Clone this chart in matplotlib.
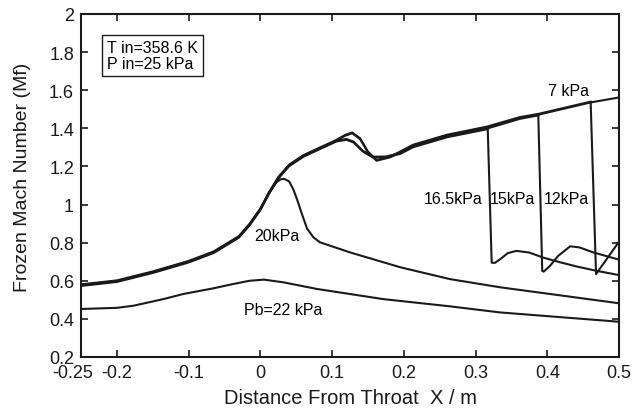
import matplotlib
matplotlib.use("Agg")
import matplotlib.pyplot as plt
import matplotlib.transforms as mtransforms

plt.rcParams['font.family'] = ['Liberation Sans', 'DejaVu Sans']
plt.rcParams['axes.unicode_minus'] = False

# Supersonic branch A (used by 7 kPa and 12 kPa)
xa = [-0.25, -0.20, -0.15, -0.10, -0.065, -0.03, -0.015, 0.0, 0.012, 0.025, 0.04, 0.06, 0.08,
      0.106, 0.118, 0.128, 0.139, 0.150, 0.162, 0.181, 0.195, 0.213, 0.26, 0.316, 0.362,
      0.388, 0.4605, 0.5]
ma = [0.577, 0.598, 0.645, 0.700, 0.750, 0.830, 0.895, 0.975, 1.06, 1.14, 1.205, 1.255, 1.29,
      1.335, 1.361, 1.374, 1.344, 1.274, 1.230, 1.248, 1.274, 1.310, 1.362, 1.405, 1.455,
      1.472, 1.536, 1.562]

# Supersonic branch B (used by 15 kPa and 16.5 kPa)
xb = [-0.25, -0.20, -0.15, -0.10, -0.065, -0.03, -0.015, 0.0, 0.012, 0.025, 0.04, 0.06, 0.08,
      0.106, 0.120, 0.130, 0.143, 0.157, 0.175, 0.195, 0.213, 0.26, 0.317, 0.362, 0.3875]
mb = [0.577, 0.598, 0.645, 0.700, 0.750, 0.830, 0.895, 0.975, 1.06, 1.14, 1.205, 1.255, 1.29,
      1.335, 1.344, 1.330, 1.282, 1.251, 1.252, 1.270, 1.305, 1.357, 1.400, 1.450, 1.468]

# Post-shock segments
x_165 = [0.317, 0.3225, 0.327, 0.335, 0.345, 0.357, 0.375, 0.394, 0.418, 0.441, 0.469, 0.5]
m_165 = [1.400, 0.695, 0.694, 0.715, 0.745, 0.757, 0.748, 0.722, 0.697, 0.675, 0.652, 0.630]

x_15 = [0.3875, 0.393, 0.395, 0.404, 0.415, 0.432, 0.445, 0.464, 0.5]
m_15 = [1.468, 0.652, 0.648, 0.679, 0.730, 0.781, 0.775, 0.749, 0.711]

x_12 = [0.4605, 0.468, 0.5]
m_12 = [1.536, 0.635, 0.805]

# 20 kPa curve
x_20 = [-0.25, -0.20, -0.15, -0.10, -0.065, -0.03, -0.015, 0.0, 0.012, 0.022, 0.028, 0.033,
        0.040, 0.046, 0.051, 0.058, 0.065, 0.074, 0.083, 0.125, 0.195, 0.264, 0.334, 0.5]
m_20 = [0.577, 0.598, 0.645, 0.700, 0.750, 0.830, 0.895, 0.975, 1.06, 1.115, 1.132, 1.135,
        1.122, 1.08, 1.029, 0.950, 0.875, 0.828, 0.802, 0.749, 0.671, 0.609, 0.566, 0.482]

# 22 kPa curve
x_22 = [-0.25, -0.20, -0.177, -0.135, -0.107, -0.066, -0.038, -0.015, 0.005, 0.032, 0.079,
        0.171, 0.264, 0.334, 0.5]
m_22 = [0.452, 0.458, 0.469, 0.504, 0.531, 0.560, 0.583, 0.600, 0.606, 0.592, 0.557,
        0.504, 0.466, 0.434, 0.385]

xticks = [-0.25, -0.2, -0.1, 0, 0.1, 0.2, 0.3, 0.4, 0.5]
xtick_labels = ['-0.25', '-0.2', '-0.1', '0', '0.1', '0.2', '0.3', '0.4', '0.5']
yticks = [0.2, 0.4, 0.6, 0.8, 1.0, 1.2, 1.4, 1.6, 1.8, 2.0]
ytick_labels = ['0.2', '0.4', '0.6', '0.8', '1', '1.2', '1.4', '1.6', '1.8', '2']

fig = plt.figure(figsize=(6.44, 4.14), dpi=100)
ax = fig.add_axes([81/644, 1-358/414, 538/644, 343/414])

lw = 1.5
col = '#1a1a1a'

# 7 kPa: branch A full
ax.plot(xa, ma, color=col, lw=lw)
# 12 kPa: branch A up to shock
idx12 = xa.index(0.4605)
ax.plot(xa[:idx12+1], [m + 0.004 for m in ma[:idx12+1]], color=col, lw=lw)
ax.plot(x_12, m_12, color=col, lw=lw)
# 15 kPa: branch B
ax.plot(xb, mb, color=col, lw=lw)
ax.plot(x_15, m_15, color=col, lw=lw)
# 16.5 kPa: branch B up to its shock
idx165 = xb.index(0.317)
ax.plot(xb[:idx165+1], [m - 0.004 for m in mb[:idx165+1]], color=col, lw=lw)
ax.plot(x_165, m_165, color=col, lw=lw)
# 20 kPa
ax.plot(x_20, m_20, color=col, lw=lw)
# 22 kPa
ax.plot(x_22, m_22, color=col, lw=lw)

ax.set_xlim(-0.25, 0.5)
ax.set_ylim(0.2, 2.0)
ax.set_xticks(xticks)
ax.set_xticklabels(xtick_labels)
ax.set_yticks(yticks)
ax.set_yticklabels(ytick_labels)
ax.tick_params(direction='in', length=5, width=1.2, top=True, right=True,
               labelsize=13, pad=5, colors='#1a1a1a')
for s in ax.spines.values():
    s.set_linewidth(1.5)
    s.set_color('#1a1a1a')

# shift the first x tick label left, as in the reference
first = ax.get_xticklabels()[0]
first.set_transform(first.get_transform() +
                    mtransforms.ScaledTranslation(-8/100, 0, fig.dpi_scale_trans))

ax.set_xlabel('Distance From Throat  X / m', fontsize=14.5, labelpad=5, color='#1a1a1a')
fig.text(23/644, 1-177/414, 'Frozen Mach Number (Mf)', rotation=90, fontsize=14,
         ha='center', va='center', color='#1a1a1a')

fs = 11.5
ax.text(0.429, 1.60, '7 kPa', fontsize=fs, ha='center', va='center')
ax.text(0.269, 1.03, '16.5kPa', fontsize=fs, ha='center', va='center')
ax.text(0.352, 1.03, '15kPa', fontsize=fs, ha='center', va='center')
ax.text(0.426, 1.03, '12kPa', fontsize=fs, ha='center', va='center')
ax.text(0.023, 0.84, '20kPa', fontsize=fs, ha='center', va='center')
ax.text(0.032, 0.447, 'Pb=22 kPa', fontsize=fs, ha='center', va='center')

ax.text(0.048, 0.925, 'T in=358.6 K\nP in=25 kPa', transform=ax.transAxes,
        fontsize=fs, ha='left', va='top', linespacing=1.1,
        bbox=dict(boxstyle='square,pad=0.3', fc='white', ec='#1a1a1a', lw=1.0))

fig.savefig('out.png', dpi=100)
